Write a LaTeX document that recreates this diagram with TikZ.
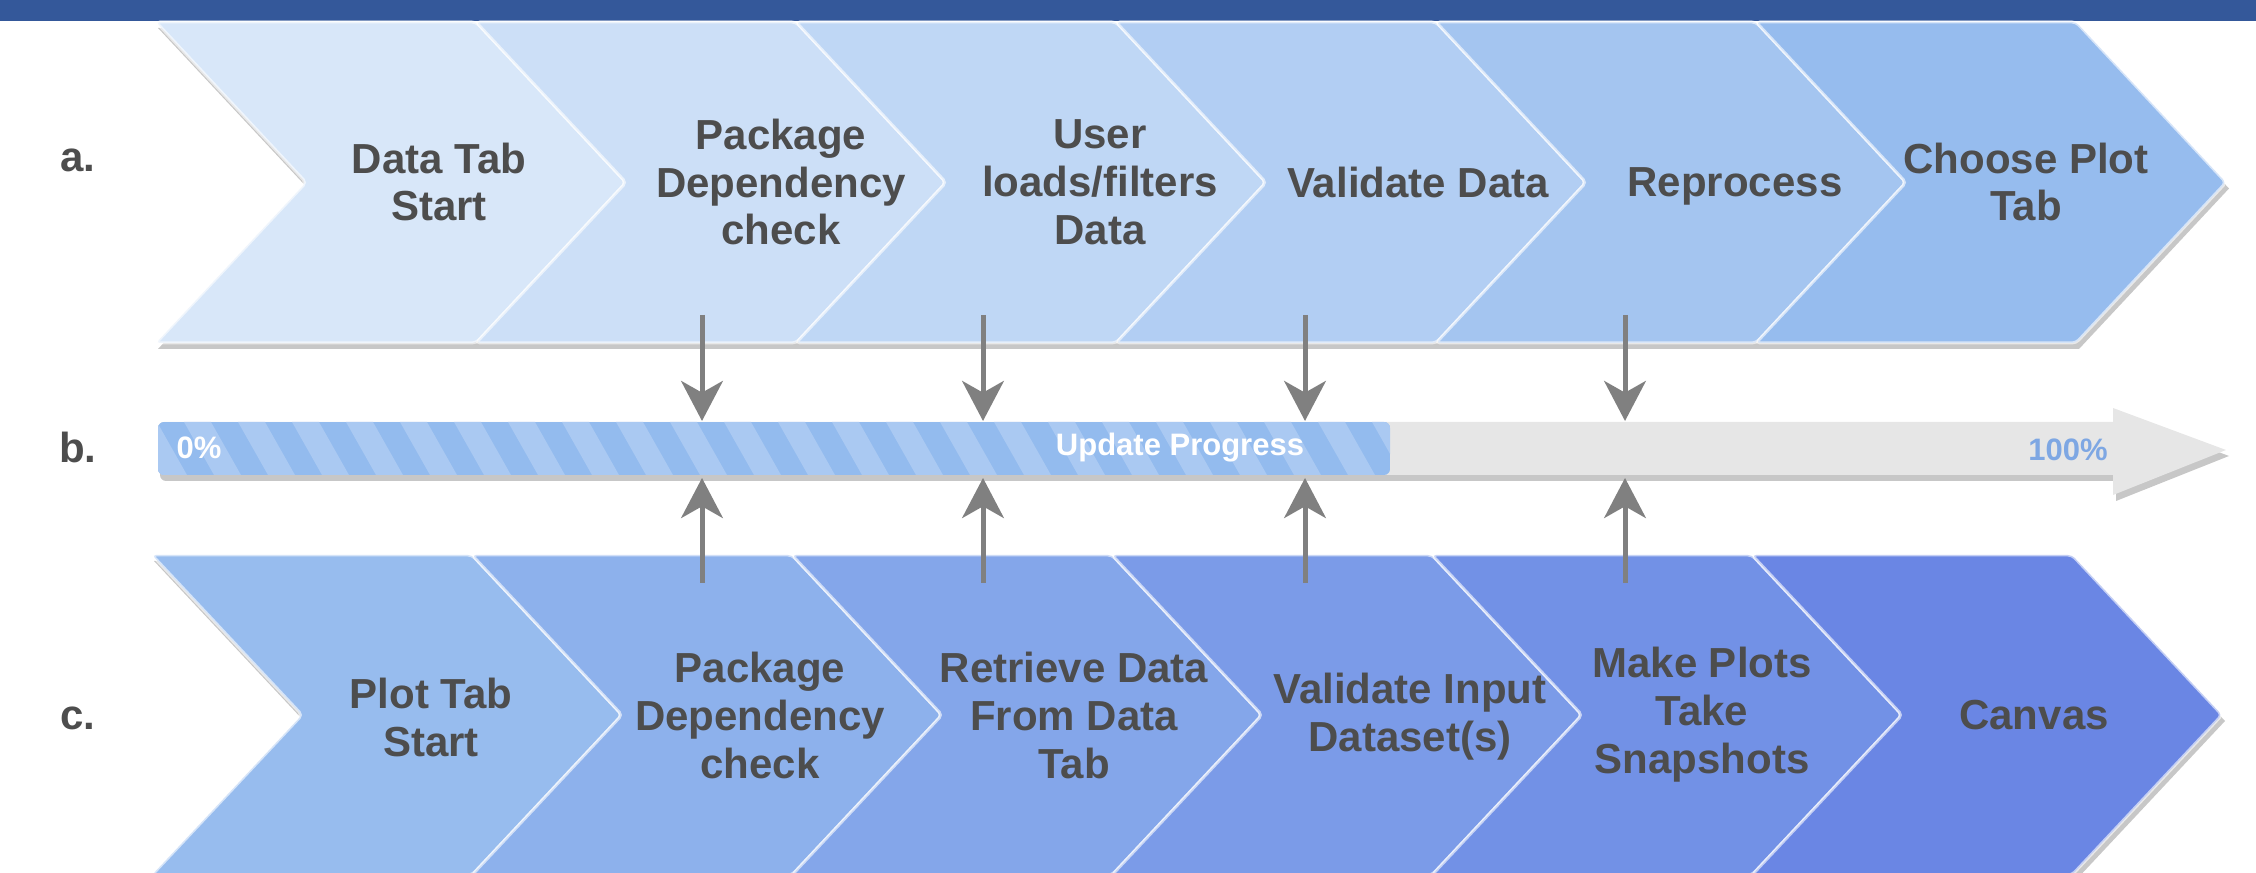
\documentclass[tikz,border=0pt]{standalone}
\usepackage{fontspec}
\setmainfont{Liberation Sans}
\usetikzlibrary{arrows.meta,positioning}

\definecolor{topband}{HTML}{34589A}
\definecolor{textgrey}{HTML}{4D4D4D}
\definecolor{arrowgrey}{HTML}{808080}
\definecolor{barback}{HTML}{E6E6E6}
\definecolor{barfill}{HTML}{93BBEE}
\definecolor{barstripe}{HTML}{AAC9F2}
\definecolor{pctblue}{HTML}{7EA7E3}
% row a, light to dark
\definecolor{aone}{HTML}{D8E7F9}
\definecolor{atwo}{HTML}{CCDFF7}
\definecolor{athree}{HTML}{BFD7F5}
\definecolor{afour}{HTML}{B2CEF3}
\definecolor{afive}{HTML}{A4C5F0}
\definecolor{asix}{HTML}{96BCEE}
% row c
\definecolor{cone}{HTML}{97BCEE}
\definecolor{ctwo}{HTML}{8DB1EC}
\definecolor{cthree}{HTML}{84A6EA}
\definecolor{cfour}{HTML}{7B9BE8}
\definecolor{cfive}{HTML}{7291E6}
\definecolor{csix}{HTML}{6A86E4}

\begin{document}
\begin{tikzpicture}[x=0.3pt,y=-0.3pt]
        \tikzset{chevron/.style = {draw=white, draw opacity=0.6,
            line width=0.9pt, rounded corners=1.2pt},
          steptext/.style  = {text=textgrey, align=center,
            font=\bfseries\fontsize{12.6pt}{14.4pt}\selectfont},
          rowlabel/.style  = {text=textgrey, anchor=base,
            font=\bfseries\fontsize{12.6pt}{14.4pt}\selectfont},
          pcttext/.style   = {inner sep=0pt,
            font=\bfseries\fontsize{9.3pt}{11pt}\selectfont},
          rowshadow/.style = {fill=black!22},
          flowarrow/.style = {draw=arrowgrey, line width=1.5pt,
            -{Stealth[length=12pt,width=12.5pt,inset=3.5pt]}}}
        \useasboundingbox (0,0) rectangle (2256,873);
        \clip (0,0) rectangle (2256,873);
        \fill[topband] (0,0) rectangle (2256,21);

        % a. data tab
        \fill[rowshadow] (158,28) -- (2079,28) -- (2229,188.5) -- (2079,349)
          -- (158,349) -- (308,188.5) -- cycle;
        \foreach \i/\col in {0/aone,1/atwo,2/athree,3/afour,4/afive,5/asix}
          \path[chevron, fill=\col] ({156+320*\i},22) -- ++(320,0) -- ++(150,160.5)
            -- ++(-150,160.5) -- ++(-320,0) -- ++(150,-160.5) -- cycle;
        \node[steptext] (aStart) at (439,182)  {Data Tab\\Start};
        \node[steptext] (aCheck) at (781,182)  {Package\\Dependency\\check};
        \node[steptext] (aLoad)  at (1100,182) {User\\loads/filters\\Data};
        \node[steptext] (aValid) at (1418,182) {Validate Data};
        \node[steptext] (aRepro) at (1735,186) {Reprocess};
        \node[steptext] (aPlot)  at (2026,182) {Choose Plot\\Tab};

        % c. plot tab
        \fill[rowshadow] (154,561) -- (2075,561) -- (2225,721) -- (2075,881)
          -- (154,881) -- (304,721) -- cycle;
        \foreach \i/\col in {0/cone,1/ctwo,2/cthree,3/cfour,4/cfive,5/csix}
          \path[chevron, fill=\col] ({152+320*\i},555) -- ++(320,0) -- ++(150,160)
            -- ++(-150,160) -- ++(-320,0) -- ++(150,-160) -- cycle;
        \node[steptext] (cStart) at (431,717)  {Plot Tab\\Start};
        \node[steptext] (cCheck) at (760,715)  {Package\\Dependency\\check};
        \node[steptext] (cFetch) at (1074,715) {Retrieve Data\\From Data\\Tab};
        \node[steptext] (cValid) at (1410,717) {Validate Input\\Dataset(s)};
        \node[steptext] (cSnap)  at (1702,715) {Make Plots\\Take\\Snapshots};
        \node[steptext] (cCanv)  at (2034,715) {Canvas};

        % b. progress bar
        \fill[rowshadow, rounded corners=1.8pt] (160,428) rectangle (2125,481);
        \fill[rowshadow] (2116,414) -- (2229,456) -- (2116,501) -- cycle;
        \fill[barback, rounded corners=1.8pt] (158,422) rectangle (2120,475);
        \fill[barback] (2113,408) -- (2226,450) -- (2113,495) -- cycle;
        \begin{scope}
          \clip[rounded corners=1.8pt] (158,422) rectangle (1390,475);
          \fill[barfill] (158,422) rectangle (1390,475);
          \foreach \x in {130,184,...,1400}
            \fill[barstripe] (\x,422) -- ++(27,0) -- ++(30,53) -- ++(-27,0) -- cycle;
        \end{scope}
        \node[pcttext, text=white, anchor=west] (zero) at (176,448) {0\%};
        \node[pcttext, text=white] (update) at (1180,448) {Update Progress};
        \node[pcttext, text=pctblue] (full) at (2068,450) {100\%};

        \node[rowlabel] (labA) at (78,172) {a.};
        \node[rowlabel] (labB) at (78,463) {b.};
        \node[rowlabel] (labC) at (78,730) {c.};

        % steps report to the bar
        \foreach \x [count=\n] in {702,983,1305,1625} {
          \coordinate (aFoot\n)  at (\x,315);
          \coordinate (barTop\n) at (\x,421);
          \coordinate (cHead\n)  at (\x,583);
          \coordinate (barBot\n) at (\x,478);
          \draw[flowarrow] (aFoot\n) -- (barTop\n);
          \draw[flowarrow] (cHead\n) -- (barBot\n);
        }
      \end{tikzpicture}
\end{document}
